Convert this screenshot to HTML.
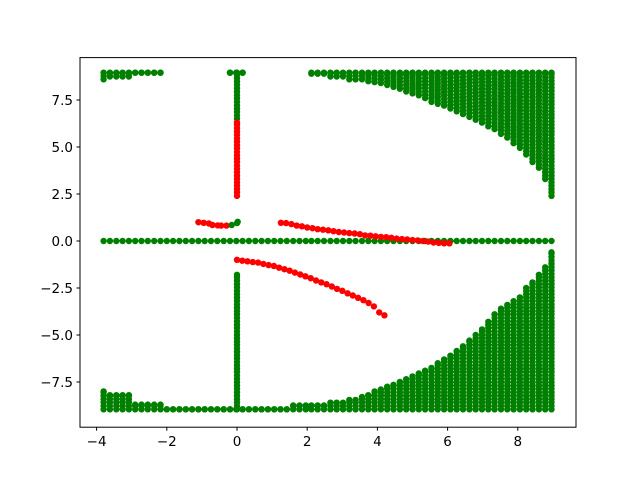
<!DOCTYPE html>
<html><head><meta charset="utf-8"><style>
html,body{margin:0;padding:0;background:#fff;}
svg text{font-family:"DejaVu Sans","Liberation Sans",sans-serif;font-size:13.5px;fill:#000;}
</style></head><body>
<svg id="chart" width="640" height="480" viewBox="0 0 640 480" xmlns="http://www.w3.org/2000/svg">
<rect x="0" y="0" width="640" height="480" fill="#fff"/>
<g id="marks"></g>
<rect x="80" y="57.6" width="496" height="369.6" fill="none" stroke="#000" stroke-width="1"/>
<g id="xaxis"></g>
<g id="yaxis"></g>
</svg>
<script>
const xTicks = [-4,-2,0,2,4,6,8];
const xTickLabels = ["\u22124","\u22122","0","2","4","6","8"];
const yTicks = [-7.5,-5,-2.5,0,2.5,5,7.5];
const yTickLabels = ["\u22127.5","\u22125.0","\u22122.5","0.0","2.5","5.0","7.5"];

const leftGridX = [-3.80,-3.62,-3.44,-3.26,-3.08,-2.90,-2.72,-2.54,-2.36,-2.18,-2.00,-1.82,-1.64,-1.46,-1.28,-1.10,-0.92,-0.74,-0.56,-0.38,-0.20,-0.02,0.16,0.34,0.52,0.70,0.88,1.06,1.24,1.42,1.60,1.78,1.96];
const leftTopMin = [8.6,8.75,8.75,8.75,8.75,8.95,8.95,8.95,8.95,8.95,null,null,null,null,null,null,null,null,null,null,8.95,8.95,8.95,null,null,null,null,null,null,null,null,null,null];
const leftBottomMax = [-8.0,-8.2,-8.2,-8.2,-8.2,-8.7,-8.7,-8.7,-8.7,-8.7,-8.95,-8.95,-8.95,-8.95,-8.95,-8.95,-8.95,-8.95,-8.95,-8.95,-8.95,-8.95,-8.95,-8.95,-8.95,-8.95,-8.95,-8.95,-8.95,-8.95,-8.75,-8.75,-8.75];

const rightX = [2.12,2.30,2.48,2.66,2.84,3.02,3.20,3.38,3.56,3.74,3.92,4.10,4.28,4.46,4.64,4.82,5.00,5.18,5.36,5.54,5.72,5.90,6.08,6.26,6.44,6.62,6.80,6.98,7.16,7.34,7.52,7.70,7.88,8.06,8.24,8.42,8.60,8.78,8.96];
const upperMin = [8.9,8.9,8.9,8.75,8.75,8.75,8.6,8.6,8.6,8.5,8.45,8.4,8.3,8.2,8.1,7.95,7.85,7.75,7.6,7.4,7.3,7.2,7.05,6.9,6.75,6.6,6.45,6.3,6.1,5.95,5.7,5.5,5.2,4.95,4.6,4.2,3.9,3.3,2.4];
const lowerMax = [-8.75,-8.75,-8.75,-8.6,-8.6,-8.6,-8.45,-8.45,-8.3,-8.2,-8.0,-7.9,-7.75,-7.65,-7.5,-7.35,-7.2,-7.05,-6.9,-6.75,-6.5,-6.3,-6.1,-5.85,-5.6,-5.3,-5.0,-4.7,-4.3,-3.9,-3.6,-3.4,-3.2,-3.0,-2.5,-2.2,-1.8,-1.4,-0.6];

const redTopX = [-1.1,-0.95,-0.8,-0.7,-0.55,-0.45,-0.3];
const redTopY = [1.0,0.97,0.93,0.85,0.83,0.82,0.82];
const greenSmallX = [-0.15,0.0,0.02];
const greenSmallY = [0.85,0.95,1.02];
const redRightX = [1.25,1.4,1.55,1.7,1.85,2.0,2.15,2.3,2.45,2.6,2.75,2.9,3.05,3.2,3.35,3.5,3.65,3.8,3.95,4.1,4.25,4.4,4.55,4.7,4.85,5.0,5.15,5.3,5.45,5.6,5.75,5.9,6.05];
const redRightY = [0.97,0.95,0.9,0.82,0.78,0.72,0.68,0.63,0.6,0.57,0.52,0.48,0.45,0.42,0.4,0.36,0.3,0.28,0.25,0.22,0.2,0.17,0.13,0.1,0.08,0.05,0.03,0.0,-0.03,-0.08,-0.1,-0.12,-0.12];
const redLowX = [0,0.15,0.3,0.45,0.6,0.75,0.9,1.05,1.2,1.35,1.5,1.65,1.8,1.95,2.1,2.25,2.4,2.55,2.7,2.85,3.0,3.15,3.3,3.45,3.6,3.75,3.9,4.05,4.2];
const redLowY = [-1.0,-1.05,-1.08,-1.12,-1.15,-1.22,-1.28,-1.33,-1.42,-1.5,-1.58,-1.68,-1.78,-1.88,-1.98,-2.1,-2.2,-2.3,-2.42,-2.55,-2.65,-2.78,-2.9,-3.02,-3.15,-3.3,-3.48,-3.8,-3.95];
const vertGreenTop = [6.5, 8.95];
const vertRed = [2.4, 6.3];
const vertGreenLow = [-8.95, -1.8];

const X = v => 237 + v * 35.1;
const Y = v => 241 - v * 18.8;
const NS = "http://www.w3.org/2000/svg";
const marks = document.getElementById('marks');
const GREEN = "#008000", RED = "#ff0000";
function dot(x, y, c) {
  const e = document.createElementNS(NS, 'circle');
  e.setAttribute('cx', X(x).toFixed(1));
  e.setAttribute('cy', Y(y).toFixed(1));
  e.setAttribute('r', 3.2);
  e.setAttribute('fill', c);
  
  
  marks.appendChild(e);
}
function column(x, y0, y1, c) {
  for (let y = y0; y <= y1 + 1e-6; y += 0.18) dot(x, y, c);
  dot(x, y1, c);
}
leftGridX.forEach(x => dot(x, 0, GREEN));
rightX.forEach(x => dot(x, 0, GREEN));
leftGridX.forEach((x, i) => {
  if (leftTopMin[i] !== null) column(x, leftTopMin[i], 8.95, GREEN);
  column(x, -8.95, leftBottomMax[i], GREEN);
});
rightX.forEach((x, i) => {
  column(x, upperMin[i], 8.95, GREEN);
  column(x, -8.95, lowerMax[i], GREEN);
});
column(0, vertGreenTop[0], vertGreenTop[1], GREEN);
column(0, vertRed[0], vertRed[1], RED);
column(0, vertGreenLow[0], vertGreenLow[1], GREEN);
redTopX.forEach((x, i) => dot(x, redTopY[i], RED));
greenSmallX.forEach((x, i) => dot(x, greenSmallY[i], GREEN));
redRightX.forEach((x, i) => dot(x, redRightY[i], RED));
redLowX.forEach((x, i) => dot(x, redLowY[i], RED));

const xa = document.getElementById('xaxis');
xTicks.forEach((t, i) => {
  const l = document.createElementNS(NS, 'line');
  l.setAttribute('x1', X(t)); l.setAttribute('x2', X(t));
  l.setAttribute('y1', 427.2); l.setAttribute('y2', 430.7);
  l.setAttribute('stroke', '#000');
  
  
  xa.appendChild(l);
  const tx = document.createElementNS(NS, 'text');
  tx.setAttribute('x', X(t)); tx.setAttribute('y', 446);
  tx.setAttribute('text-anchor', 'middle');
  tx.textContent = xTickLabels[i];
  
  
  xa.appendChild(tx);
});
const ya = document.getElementById('yaxis');
yTicks.forEach((t, i) => {
  const l = document.createElementNS(NS, 'line');
  l.setAttribute('x1', 76.5); l.setAttribute('x2', 80);
  l.setAttribute('y1', Y(t)); l.setAttribute('y2', Y(t));
  l.setAttribute('stroke', '#000');
  
  
  ya.appendChild(l);
  const tx = document.createElementNS(NS, 'text');
  tx.setAttribute('x', 73); tx.setAttribute('y', Y(t) + 5);
  tx.setAttribute('text-anchor', 'end');
  tx.textContent = yTickLabels[i];
  
  
  ya.appendChild(tx);
});
</script>
</body></html>
